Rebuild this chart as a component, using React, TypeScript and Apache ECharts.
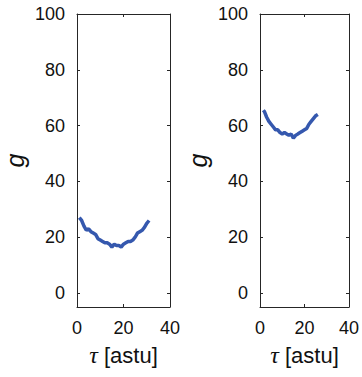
import React, { useEffect, useRef } from "react";
import * as echarts from "echarts";

// τ values (astu) and g readings for the two runs
const tauA = [1, 2, 3, 4, 5, 6, 7, 8, 9, 10, 11, 12, 13, 14, 15, 16, 17, 18, 19, 20, 21, 22, 23, 24, 25, 26, 27, 28, 29, 30, 31];
const gA = [27, 26, 24, 22.5, 23, 22, 21.5, 21, 19.5, 19, 18.5, 18, 18, 17.5, 16.5, 17.5, 17, 17, 16.5, 17.5, 18, 18.5, 18.5, 19, 20, 21.5, 22, 22.5, 23.5, 25, 26];

const tauB = [1.5, 2, 3, 4, 5, 6, 7, 8, 9, 10, 11, 12, 13, 14, 15, 16, 17, 18, 19, 20, 21, 22, 23, 24, 25, 26];
const gB = [65.5, 65, 63, 61.5, 60.5, 59.5, 58.5, 58.5, 57.5, 57, 57.5, 57, 56.5, 57, 55.5, 56.5, 57, 57.5, 58, 58.5, 59, 60.5, 61.5, 62.5, 63.5, 64];

const xTicks = [0, 20, 40];
const yTicks = [0, 20, 40, 60, 80, 100];

const LINE = "#3558AE";
const AXIS = "#262626";
const TEXT = "#111111";
const FONT = "'Liberation Sans', Arial, sans-serif";

export default function App() {
  const ref = useRef<HTMLDivElement>(null);

  useEffect(() => {
    if (!ref.current) return;
    const chart = echarts.init(ref.current, undefined, { renderer: "svg" });

    const grids = [
      { left: 77, top: 14, width: 93, height: 293 },
      { left: 260, top: 14, width: 93, height: 293 },
    ];

    const xAxes: any[] = [];
    const yAxes: any[] = [];
    grids.forEach((_, i) => {
      const common = {
        gridIndex: i,
        type: "value",
        axisLine: { show: true, onZero: false, lineStyle: { color: AXIS, width: 1 } },
        axisTick: { show: true, inside: true, length: 3, lineStyle: { color: AXIS }, customValues: null as any },
        splitLine: { show: false },
      };
      xAxes.push({
        ...common,
        position: "bottom",
        min: 0,
        max: 40,
        axisTick: { ...common.axisTick, customValues: xTicks },
        axisLabel: { customValues: xTicks, color: TEXT, fontSize: 18, fontFamily: FONT, margin: 12 },
        name: "{t|τ}{s| [astu]}",
        nameLocation: "middle",
        nameGap: 36,
        nameTextStyle: {
          rich: {
            t: { fontFamily: "'Liberation Serif', 'DejaVu Serif', serif", fontStyle: "italic", fontSize: 24, color: TEXT },
            s: { fontFamily: FONT, fontSize: 22, color: TEXT },
          },
        },
      });
      xAxes.push({
        ...common,
        position: "top",
        min: 0,
        max: 40,
        axisTick: { ...common.axisTick, customValues: xTicks },
        axisLabel: { show: false },
      });
      yAxes.push({
        ...common,
        position: "left",
        min: -5,
        max: 100,
        axisTick: { ...common.axisTick, customValues: yTicks },
        axisLabel: { customValues: yTicks, color: TEXT, fontSize: 18, fontFamily: FONT, margin: 12 },
        name: "g",
        nameLocation: "middle",
        nameGap: 50,
        nameTextStyle: { fontFamily: FONT, fontStyle: "italic", fontSize: 25, color: TEXT },
      });
      yAxes.push({
        ...common,
        position: "right",
        min: -5,
        max: 100,
        axisTick: { ...common.axisTick, customValues: yTicks },
        axisLabel: { show: false },
      });
    });

    const mk = (xs: number[], ys: number[]) => xs.map((x, k) => [x, ys[k]]);

    chart.setOption({
      animation: false,
      backgroundColor: "#ffffff",
      grid: grids,
      xAxis: xAxes,
      yAxis: yAxes,
      series: [
        {
          type: "line",
          xAxisIndex: 0,
          yAxisIndex: 0,
          data: mk(tauA, gA),
          showSymbol: false,
          lineStyle: { color: LINE, width: 3.5 },
        },
        {
          type: "line",
          xAxisIndex: 2,
          yAxisIndex: 2,
          data: mk(tauB, gB),
          showSymbol: false,
          lineStyle: { color: LINE, width: 3.5 },
        },
      ],
    });

    return () => chart.dispose();
  }, []);

  return <div ref={ref} style={{ width: 362, height: 377, position: "absolute", left: 0, top: 0 }} />;
}
